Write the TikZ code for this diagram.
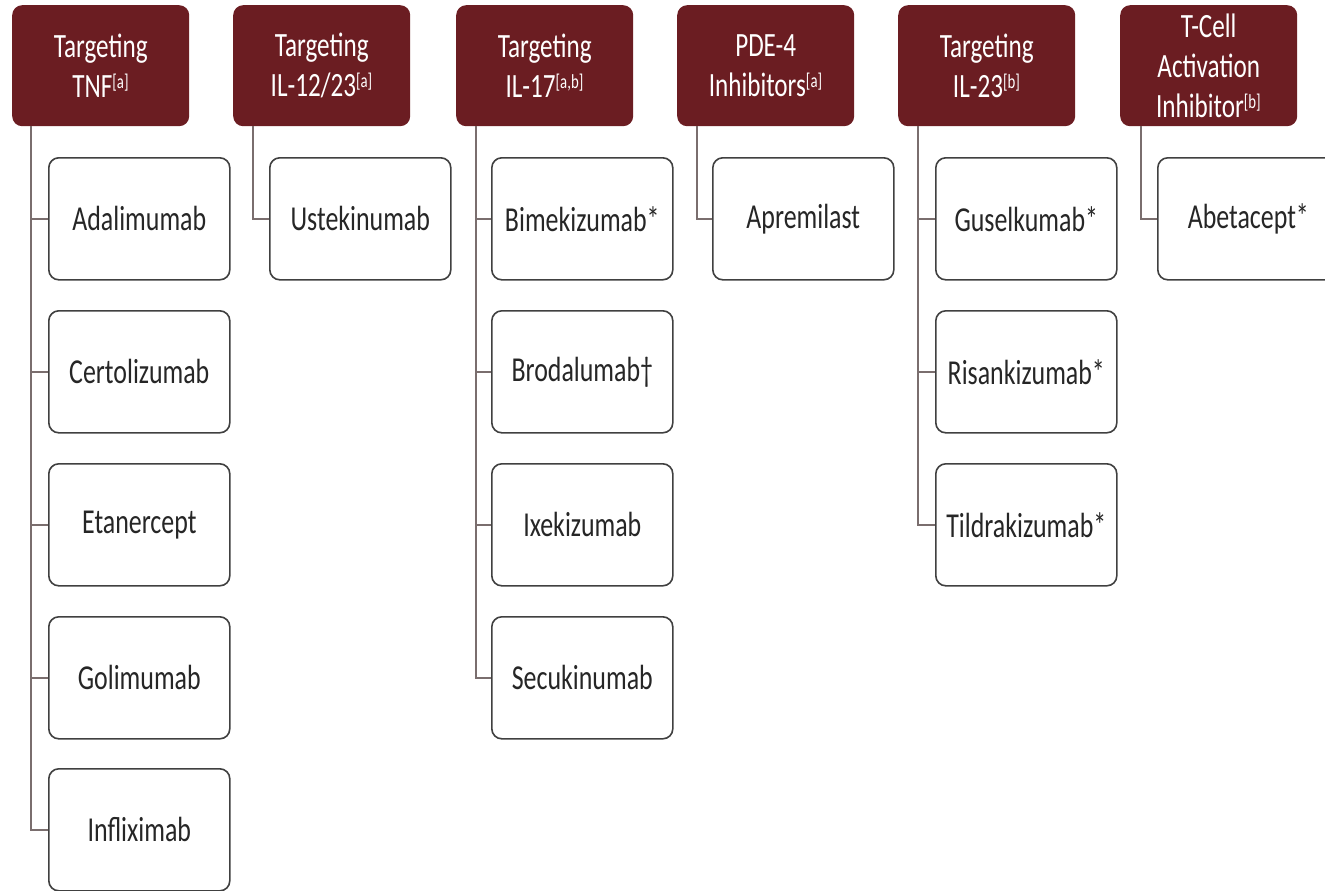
\documentclass[tikz,border=0pt]{standalone}
\usepackage{fontspec}
\setmainfont{Carlito}[FakeStretch=0.74]
\definecolor{hdrred}{HTML}{6B1D22}
\definecolor{boxgray}{HTML}{404040}
\definecolor{linegray}{HTML}{7A6E6E}
\definecolor{textgray}{HTML}{262626}
\newcommand{\sups}[1]{\textsuperscript{\fontsize{20}{20}\selectfont[#1]}}
\begin{document}
\begin{tikzpicture}[x=1pt,y=-1pt,
  hdr/.style={fill=hdrred, rounded corners=10pt, minimum width=177pt, minimum height=121pt,
    text width=170pt, align=center, inner sep=0pt, text=white,
    font=\fontsize{34}{40}\selectfont, anchor=north west},
  item/.style={draw=boxgray, line width=1.6pt, fill=white, rounded corners=10pt,
    minimum width=181pt, minimum height=122pt, inner sep=0pt, text=textgray,
    font=\fontsize{35}{40}\selectfont, anchor=north west},
  conn/.style={draw=linegray, line width=1.8pt}]
\useasboundingbox (0,0) rectangle (1325,891);
\clip (0,0) rectangle (1325,891);
% headers
\node[hdr] (h1) at (12,5) {Targeting\\TNF\sups{a}};
\node[hdr] (h2) at (233,5) {Targeting\\IL-12/23\sups{a}};
\node[hdr] (h3) at (456,5) {Targeting\\IL-17\sups{a,b}};
\node[hdr] (h4) at (677,5) {PDE-4\\Inhibitors\sups{a}};
\node[hdr] (h5) at (898,5) {Targeting\\IL-23\sups{b}};
\node[hdr] (h6) at (1120,5) {T-Cell\\Activation\\Inhibitor\sups{b}};
% column 1
\node[item] (c1a) at (48,157) {Adalimumab};
\node[item] (c1b) at (48,310) {Certolizumab};
\node[item] (c1c) at (48,463) {Etanercept};
\node[item] (c1d) at (48,616) {Golimumab};
\node[item] (c1e) at (48,768) {Infliximab};
% column 2
\node[item] (c2a) at (269,157) {Ustekinumab};
% column 3
\node[item] (c3a) at (491,157) {Bimekizumab*};
\node[item] (c3b) at (491,310) {Brodalumab†};
\node[item] (c3c) at (491,463) {Ixekizumab};
\node[item] (c3d) at (491,616) {Secukinumab};
% column 4
\node[item] (c4a) at (712,157) {Apremilast};
% column 5
\node[item] (c5a) at (935,157) {Guselkumab*};
\node[item] (c5b) at (935,310) {Risankizumab*};
\node[item] (c5c) at (935,463) {Tildrakizumab*};
% column 6
\node[item] (c6a) at (1157,157) {Abetacept*};
% connectors
\foreach \c in {c1a,c1b,c1c,c1d,c1e} \draw[conn] ([xshift=19pt]h1.south west) |- (\c.west);
\draw[conn] ([xshift=20pt]h2.south west) |- (c2a.west);
\foreach \c in {c3a,c3b,c3c,c3d} \draw[conn] ([xshift=20pt]h3.south west) |- (\c.west);
\draw[conn] ([xshift=20pt]h4.south west) |- (c4a.west);
\foreach \c in {c5a,c5b,c5c} \draw[conn] ([xshift=20pt]h5.south west) |- (\c.west);
\draw[conn] ([xshift=21pt]h6.south west) |- (c6a.west);
\end{tikzpicture}
\end{document}
